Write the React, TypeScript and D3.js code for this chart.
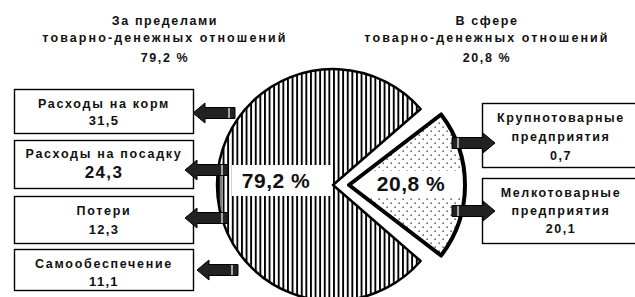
import React from "react";
import * as d3 from "d3";

const W = 635;
const H = 297;

// ---- data ----
const shares = [79.2, 20.8];
const shareLabels = ["79,2 %", "20,8 %"];
const leftTitle = ["За пределами", "товарно-денежных отношений", "79,2 %"];
const rightTitle = ["В сфере", "товарно-денежных отношений", "20,8 %"];
const leftCats = ["Расходы на корм", "Расходы на посадку", "Потери", "Самообеспечение"];
const leftVals = ["31,5", "24,3", "12,3", "11,1"];
const rightCats = [["Крупнотоварные", "предприятия"], ["Мелкотоварные", "предприятия"]];
const rightVals = ["0,7", "20,1"];

// ---- layout ----
const FONT = "'Liberation Sans', Arial, sans-serif";
const cx = 333;
const cy = 185;
const R = 116;
const explode = 16;
const bigPad = (3.5 * Math.PI) / 180;

const leftBoxes = [
  { y: 89, h: 44, ty: [103, 120], vs: 13 },
  { y: 140, h: 48, ty: [153, 172], vs: 17 },
  { y: 196, h: 47, ty: [210, 229], vs: 13 },
  { y: 249, h: 41, ty: [263, 281], vs: 13 },
];
const leftArrows = [
  { tip: 193, tail: 235, y: 113 },
  { tip: 185, tail: 228, y: 170 },
  { tip: 185, tail: 228, y: 218 },
  { tip: 197, tail: 238, y: 270 },
];
const rightBoxes = [
  { y: 103, h: 64, ty: [117, 136, 155] },
  { y: 178, h: 65, ty: [192, 210, 228] },
];
const rightArrows = [
  { tip: 495, tail: 452, y: 143 },
  { tip: 495, tail: 452, y: 211 },
];

function arrowPath(tip: number, tail: number, y: number) {
  const dir = Math.sign(tail - tip);
  const bodyH = 11;
  const headH = 20;
  const headL = 12;
  const hx = tip + dir * headL;
  const p = d3.path();
  p.moveTo(tip, y);
  p.lineTo(hx, y - headH / 2);
  p.lineTo(hx, y - bodyH / 2);
  p.lineTo(tail, y - bodyH / 2);
  p.lineTo(tail, y + bodyH / 2);
  p.lineTo(hx, y + bodyH / 2);
  p.lineTo(hx, y + headH / 2);
  p.closePath();
  return p.toString();
}

function Arrow({ tip, tail, y }: { tip: number; tail: number; y: number }) {
  const dir = Math.sign(tail - tip);
  const mx = tail - dir * 6;
  return (
    <g>
      <path d={arrowPath(tip, tail, y)} fill="#222" stroke="#000" strokeWidth={1} strokeLinejoin="miter" />
      <line x1={mx} x2={mx} y1={y - 5} y2={y + 5} stroke="#fff" strokeWidth={1.2} />
    </g>
  );
}

export default function App() {
  const pie = d3
    .pie<number>()
    .sort(null)
    .value((d) => d)
    .startAngle(Math.PI / 2 + (Math.PI * shares[1]) / 100)
    .endAngle(Math.PI / 2 + (Math.PI * shares[1]) / 100 + 2 * Math.PI);
  const arcs = pie(shares);
  const arcGen = d3.arc<any>().innerRadius(0).outerRadius(R);

  const big = { ...arcs[0], startAngle: arcs[0].startAngle + bigPad, endAngle: arcs[0].endAngle - bigPad };
  const small = arcs[1];
  const smallMid = (small.startAngle + small.endAngle) / 2;
  const sx = cx + explode * Math.sin(smallMid);
  const sy = cy - explode * Math.cos(smallMid);

  const bigPath = arcGen(big) as string;
  const smallPath = arcGen(small) as string;

  const textStyle = { fontFamily: FONT, fontWeight: 700, fill: "#111" } as React.CSSProperties;

  return (
    <svg width={W} height={H} style={{ position: "absolute", left: 0, top: 0, background: "#fff" }}>
      <defs>
        <pattern id="hatch" patternUnits="userSpaceOnUse" width={4.6} height={10}>
          <rect width={4.6} height={10} fill="#fff" />
          <rect x={0} width={1.9} height={10} fill="#000" />
        </pattern>
        <pattern id="dots" patternUnits="userSpaceOnUse" width={8} height={8}>
          <rect width={8} height={8} fill="#fff" />
          <rect x={1.5} y={1.5} width={1.3} height={1.3} fill="#222" />
          <rect x={5.5} y={5.5} width={1.3} height={1.3} fill="#222" />
        </pattern>
        <clipPath id="bigClip">
          <path d={bigPath} transform={`translate(${cx},${cy})`} />
        </clipPath>
        <clipPath id="smallClip">
          <path d={smallPath} transform={`translate(${sx},${sy})`} />
        </clipPath>
      </defs>
      <rect width={W} height={H} fill="#fff" />

      {/* titles */}
      {[leftTitle, rightTitle].map((lines, i) => (
        <g key={i}>
          {lines.map((t, j) => (
            <text
              key={j}
              x={i === 0 ? 165 : 487}
              y={[25, 42, 62][j]}
              textAnchor="middle"
              fontSize={12.5}
              letterSpacing={j === 1 ? 2.1 : 1.6}
              style={textStyle}
            >
              {t}
            </text>
          ))}
        </g>
      ))}

      {/* big slice */}
      <g transform={`translate(${cx},${cy})`}>
        <path d={bigPath} fill="url(#hatch)" />
      </g>
      <g clipPath="url(#bigClip)">
        <rect x={232} y={165} width={100} height={31} fill="#fff" />
      </g>
      <g transform={`translate(${cx},${cy})`}>
        <path d={bigPath} fill="none" stroke="#000" strokeWidth={2.5} strokeLinejoin="round" />
      </g>
      <text x={276} y={188} textAnchor="middle" fontSize={21} letterSpacing={0.5} style={textStyle}>
        {shareLabels[0]}
      </text>

      {/* small slice */}
      <g transform={`translate(${sx},${sy})`}>
        <path d={smallPath} fill="url(#dots)" />
      </g>
      <g clipPath="url(#smallClip)">
        <rect x={350} y={171} width={115} height={27} fill="#fff" />
      </g>
      <g transform={`translate(${sx},${sy})`}>
        <path d={smallPath} fill="none" stroke="#000" strokeWidth={4} strokeLinejoin="round" />
      </g>
      <text x={411} y={191} textAnchor="middle" fontSize={21} letterSpacing={0.5} style={textStyle}>
        {shareLabels[1]}
      </text>

      {/* bracket line */}
      <line x1={221} x2={221} y1={170} y2={218} stroke="#000" strokeWidth={1} />

      {/* left boxes */}
      {leftCats.map((c, i) => {
        const b = leftBoxes[i];
        return (
          <g key={c}>
            <rect x={14.5} y={b.y + 0.5} width={179} height={b.h} fill="#fff" stroke="#000" strokeWidth={1.4} />
            <text x={104} y={b.ty[0] + 4.5} textAnchor="middle" fontSize={12.5} letterSpacing={1.7} style={textStyle}>
              {c}
            </text>
            <text x={104} y={b.ty[1] + (b.vs > 13 ? 6 : 4.5)} textAnchor="middle" fontSize={b.vs} letterSpacing={1.3} style={textStyle}>
              {leftVals[i]}
            </text>
          </g>
        );
      })}
      {leftArrows.map((a, i) => (
        <Arrow key={i} {...a} />
      ))}

      {/* right boxes */}
      {rightCats.map((c, i) => {
        const b = rightBoxes[i];
        return (
          <g key={i}>
            <rect x={482.5} y={b.y + 0.5} width={170} height={b.h} fill="#fff" stroke="#000" strokeWidth={1.4} />
            {[...c, rightVals[i]].map((t, j) => (
              <text key={j} x={561} y={b.ty[j] + 4.5} textAnchor="middle" fontSize={12.5} letterSpacing={1.6} style={textStyle}>
                {t}
              </text>
            ))}
          </g>
        );
      })}
      {rightArrows.map((a, i) => (
        <Arrow key={i} {...a} />
      ))}
    </svg>
  );
}
